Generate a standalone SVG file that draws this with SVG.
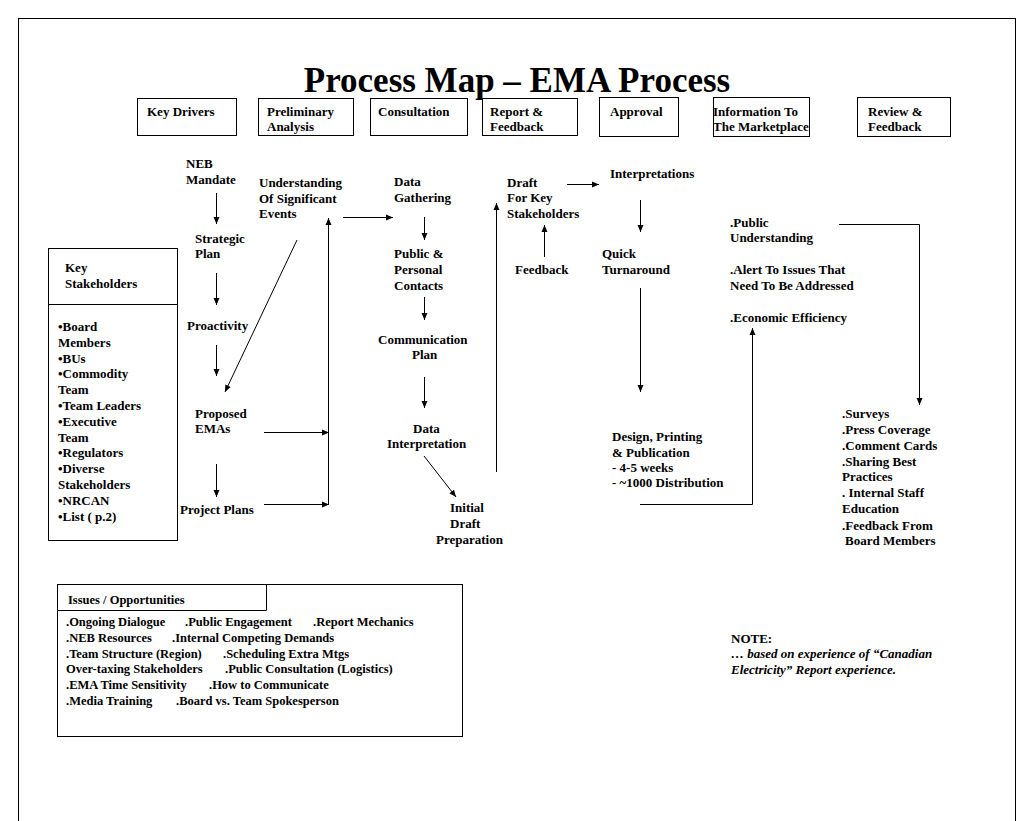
<svg xmlns="http://www.w3.org/2000/svg" width="1034" height="821" viewBox="0 0 1034 821">
<style>
text{font-family:"Liberation Serif","Times New Roman",serif;font-weight:bold;font-size:13px;fill:#000}
.title{font-size:35px}
.iss{font-size:12.5px}
.it{font-style:italic}
.box{fill:#fff;stroke:#000;stroke-width:1}
.ln{fill:none;stroke:#000;stroke-width:1}
</style>
<defs>
<marker id="ah" markerWidth="8" markerHeight="8" refX="7" refY="4" orient="auto" markerUnits="userSpaceOnUse">
<path d="M0,1 L7,4 L0,7 Z" fill="#000"/>
</marker>
</defs>
<rect x="0" y="0" width="1034" height="821" fill="#fff"/>
<rect x="18.5" y="18.5" width="997" height="820" class="ln"/>
<text class="title" x="517" y="92" text-anchor="middle">Process Map – EMA Process</text>

<g id="hdr-key-drivers"><rect class="box" x="137.5" y="98.5" width="99" height="37"/><text x="147" y="116">Key Drivers</text></g>
<g id="hdr-preliminary"><rect class="box" x="258.5" y="98.5" width="95" height="37"/><text x="267" y="116">Preliminary</text><text x="267" y="131">Analysis</text></g>
<g id="hdr-consultation"><rect class="box" x="370.5" y="98.5" width="97" height="37"/><text x="378" y="116">Consultation</text></g>
<g id="hdr-report"><rect class="box" x="482.5" y="98.5" width="95" height="37"/><text x="490" y="116">Report &amp;</text><text x="490" y="131">Feedback</text></g>
<g id="hdr-approval"><rect class="box" x="599.5" y="97.5" width="79" height="39"/><text x="610" y="116">Approval</text></g>
<g id="hdr-information"><rect class="box" x="713.5" y="97.5" width="96" height="39"/><text x="713" y="116">Information To</text><text x="713" y="131">The Marketplace</text></g>
<g id="hdr-review"><rect class="box" x="857.5" y="97.5" width="93" height="39"/><text x="868" y="116">Review &amp;</text><text x="868" y="131">Feedback</text></g>

<g id="key-stakeholders">
<rect class="box" x="48.5" y="248.5" width="129" height="292"/>
<line class="ln" x1="48" y1="304.5" x2="178" y2="304.5"/>
<text x="65" y="272">Key</text><text x="65" y="288">Stakeholders</text>
<text x="58" y="331">•Board</text>
<text x="58" y="347">Members</text>
<text x="58" y="363">•BUs</text>
<text x="58" y="378">•Commodity</text>
<text x="58" y="394">Team</text>
<text x="58" y="410">•Team Leaders</text>
<text x="58" y="426">•Executive</text>
<text x="58" y="442">Team</text>
<text x="58" y="457">•Regulators</text>
<text x="58" y="473">•Diverse</text>
<text x="58" y="489">Stakeholders</text>
<text x="58" y="505">•NRCAN</text>
<text x="58" y="521">•List ( p.2)</text>
</g>

<g id="neb-mandate"><text x="186" y="168">NEB</text><text x="186" y="184">Mandate</text></g>
<g id="strategic-plan"><text x="195" y="243">Strategic</text><text x="195" y="258">Plan</text></g>
<g id="proactivity"><text x="187" y="330">Proactivity</text></g>
<g id="proposed-emas"><text x="195" y="418">Proposed</text><text x="195" y="433">EMAs</text></g>
<g id="project-plans"><text x="180" y="514">Project Plans</text></g>
<g id="understanding"><text x="259" y="187">Understanding</text><text x="259" y="203">Of Significant</text><text x="259" y="218">Events</text></g>
<g id="data-gathering"><text x="394" y="186">Data</text><text x="394" y="202">Gathering</text></g>
<g id="public-contacts"><text x="394" y="258">Public &amp;</text><text x="394" y="274">Personal</text><text x="394" y="290">Contacts</text></g>
<g id="communication-plan"><text x="378" y="344">Communication</text><text x="412" y="359">Plan</text></g>
<g id="data-interpretation"><text x="413" y="433">Data</text><text x="387" y="448">Interpretation</text></g>
<g id="initial-draft"><text x="450" y="512">Initial</text><text x="450" y="528">Draft</text><text x="436" y="544">Preparation</text></g>
<g id="draft-key"><text x="507" y="187">Draft</text><text x="507" y="202">For Key</text><text x="507" y="218">Stakeholders</text></g>
<g id="feedback"><text x="515" y="274">Feedback</text></g>
<g id="interpretations"><text x="610" y="178">Interpretations</text></g>
<g id="quick-turnaround"><text x="602" y="258">Quick</text><text x="602" y="274">Turnaround</text></g>
<g id="design-printing"><text x="612" y="441">Design, Printing</text><text x="612" y="457">&amp; Publication</text><text x="612" y="472">- 4-5 weeks</text><text x="612" y="487">- ~1000 Distribution</text></g>
<g id="outcomes"><text x="730" y="227">.Public</text><text x="730" y="242">Understanding</text><text x="730" y="274">.Alert To Issues That</text><text x="730" y="290">Need To Be Addressed</text><text x="730" y="322">.Economic Efficiency</text></g>
<g id="review-list"><text x="842" y="418">.Surveys</text><text x="842" y="434">.Press Coverage</text><text x="842" y="450">.Comment Cards</text><text x="842" y="466">.Sharing Best</text><text x="842" y="481">Practices</text><text x="842" y="497">. Internal Staff</text><text x="842" y="513">Education</text><text x="842" y="530">.Feedback From</text><text x="845" y="545">Board Members</text></g>

<g id="issues">
<rect class="box" x="57.5" y="584.5" width="405" height="152"/>
<polyline class="ln" points="57,610.5 266.5,610.5 266.5,584"/>
<text x="68" y="604" class="iss">Issues / Opportunities</text>
<text class="iss" x="66" y="626">.Ongoing Dialogue</text><text class="iss" x="185" y="626">.Public Engagement</text><text class="iss" x="313" y="626">.Report Mechanics</text>
<text class="iss" x="66" y="642">.NEB Resources</text><text class="iss" x="172" y="642">.Internal Competing Demands</text>
<text class="iss" x="66" y="658">.Team Structure (Region)</text><text class="iss" x="223" y="658">.Scheduling Extra Mtgs</text>
<text class="iss" x="66" y="673">Over-taxing Stakeholders</text><text class="iss" x="225" y="673">.Public Consultation (Logistics)</text>
<text class="iss" x="66" y="689">.EMA Time Sensitivity</text><text class="iss" x="209" y="689">.How to Communicate</text>
<text class="iss" x="66" y="705">.Media Training</text><text class="iss" x="176" y="705">.Board vs. Team Spokesperson</text>
</g>

<g id="note"><text x="731" y="643">NOTE:</text><text class="it" x="731" y="658">… based on experience of “Canadian</text><text class="it" x="731" y="674">Electricity” Report experience.</text></g>

<g id="connectors">
<line class="ln" x1="216.5" y1="193" x2="216.5" y2="224" marker-end="url(#ah)"/>
<line class="ln" x1="216.5" y1="273" x2="216.5" y2="305" marker-end="url(#ah)"/>
<line class="ln" x1="216.5" y1="345" x2="216.5" y2="376" marker-end="url(#ah)"/>
<line class="ln" x1="216.5" y1="464" x2="216.5" y2="497" marker-end="url(#ah)"/>
<line class="ln" x1="297" y1="240" x2="225" y2="392" marker-end="url(#ah)"/>
<line class="ln" x1="264" y1="432.5" x2="329" y2="432.5" marker-end="url(#ah)"/>
<line class="ln" x1="264" y1="504.5" x2="329" y2="504.5" marker-end="url(#ah)"/>
<line class="ln" x1="328.5" y1="505" x2="328.5" y2="218" marker-end="url(#ah)"/>
<line class="ln" x1="343" y1="217.5" x2="393" y2="217.5" marker-end="url(#ah)"/>
<line class="ln" x1="424.5" y1="217" x2="424.5" y2="240" marker-end="url(#ah)"/>
<line class="ln" x1="424.5" y1="297" x2="424.5" y2="320" marker-end="url(#ah)"/>
<line class="ln" x1="424.5" y1="377" x2="424.5" y2="408" marker-end="url(#ah)"/>
<line class="ln" x1="424" y1="456" x2="456" y2="497" marker-end="url(#ah)"/>
<line class="ln" x1="496.5" y1="472" x2="496.5" y2="203" marker-end="url(#ah)"/>
<line class="ln" x1="567" y1="184.5" x2="599" y2="184.5" marker-end="url(#ah)"/>
<line class="ln" x1="544.5" y1="257" x2="544.5" y2="225" marker-end="url(#ah)"/>
<line class="ln" x1="640.5" y1="200" x2="640.5" y2="232" marker-end="url(#ah)"/>
<line class="ln" x1="640.5" y1="288" x2="640.5" y2="392" marker-end="url(#ah)"/>
<polyline class="ln" points="640,504.5 752.5,504.5 752.5,328" marker-end="url(#ah)"/>
<polyline class="ln" points="839,224.5 919.5,224.5 919.5,405" marker-end="url(#ah)"/>
</g>
</svg>
